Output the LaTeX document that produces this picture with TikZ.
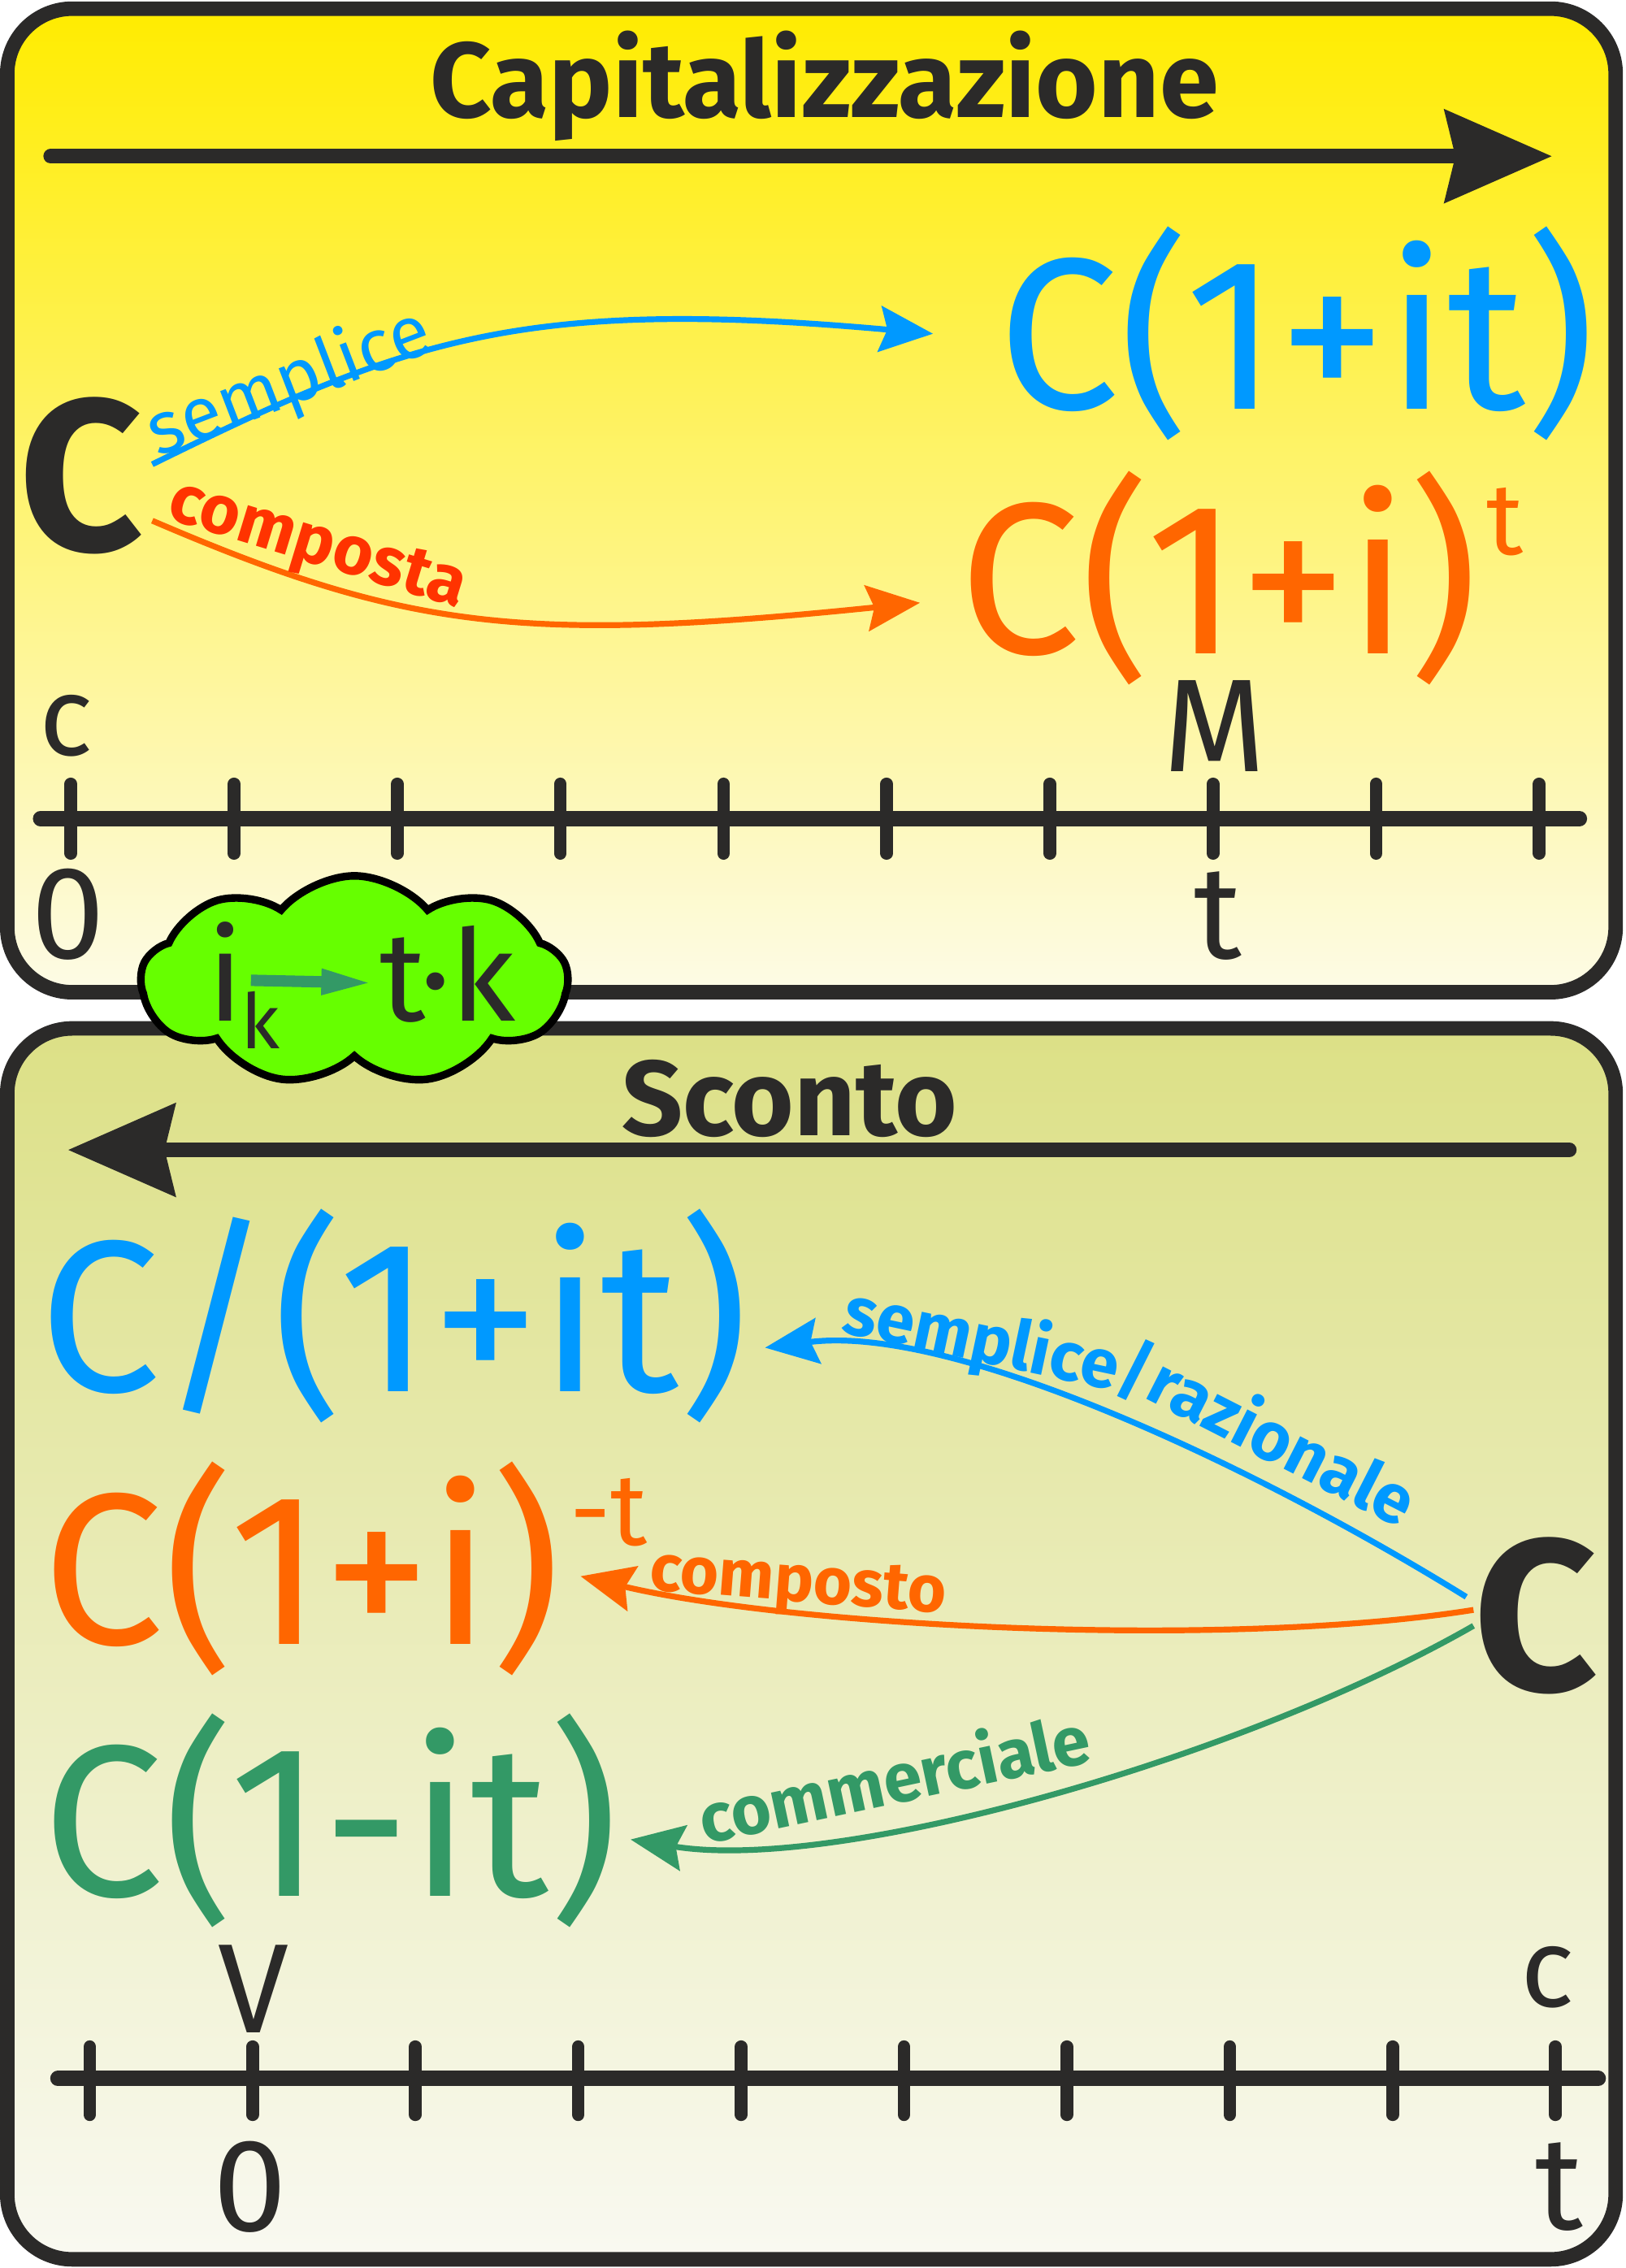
\documentclass[tikz,border=0pt]{standalone}
\usepackage{fontspec}
\setmainfont{Fira Sans}
\usetikzlibrary{arrows.meta,shapes.symbols}

\definecolor{ink}{HTML}{2B2A29}
\definecolor{simple}{HTML}{0099FF}
\definecolor{compound}{HTML}{FF6600}
\definecolor{compred}{HTML}{FF3300}
\definecolor{commercial}{HTML}{339966}
\definecolor{leaf}{HTML}{66FF00}
\definecolor{captop}{HTML}{FFEC00}
\definecolor{capbot}{HTML}{FDFBE6}
\definecolor{distop}{HTML}{DCE086}
\definecolor{disbot}{HTML}{F9F9F1}

\begin{document}
\begin{tikzpicture}[
            x=0.02cm, y=-0.02cm,
            frame/.style={draw=ink, line width=5.7pt, rounded corners=0.9cm},
            axis/.style={draw=ink, line width=6pt, line cap=round},
            tick/.style={draw=ink, line width=5pt, line cap=round},
            bigarrow/.style={draw=ink, line width=5.7pt, line cap=round, -{Stealth[length=42pt, width=36pt, inset=4pt]}},
            link/.style={line width=2.3pt, -{Stealth[length=21pt, width=18pt, inset=3pt]}},
            back/.style={line width=2.3pt, {Stealth[length=21pt, width=18pt, inset=3pt]}-},
            title/.style={font=\bfseries\fontsize{42}{50}\selectfont, text=ink, inner sep=0pt, anchor=base},
            formula/.style={font=\fontsize{85}{90}\selectfont, inner sep=0pt, anchor=base west},
            expo/.style={font=\fontsize{40}{44}\selectfont, inner sep=0pt, anchor=base west, xshift=3pt, yshift=39pt},
            big/.style={font=\bfseries\fontsize{85}{90}\selectfont, text=ink, inner sep=0pt},
            label/.style={font=\bfseries\fontsize{27}{30}\selectfont, inner sep=0pt, anchor=base west},
            axislabel/.style={font=\fontsize{52}{56}\selectfont, text=ink, inner sep=0pt}]
            \useasboundingbox (0,0) rectangle (1124,1568);
            \draw[frame, top color=captop, bottom color=capbot] (5,6) rectangle (1117,686);
            \draw[frame, top color=distop, bottom color=disbot] (5,711) rectangle (1117,1562);

            \node (cap) [title] at (570,81) {Capitalizzazione};
            \coordinate (capfrom) at (35,108);
            \coordinate (capto) at (1073,108);
            \draw[bigarrow] (capfrom) -- (capto);

            \node (Ctop) [big] at (56,329) {C};
            \node (csim) [formula, text=simple] at (690,283) {C(1+it)};
            \node (ccom) [formula, text=compound] at (663,452) {C(1+i)};
            \node (ccomexp) [expo, text=compound] at (ccom.base east) {t};
            \draw[link, simple] ([xshift=0.12cm, yshift=0.16cm]Ctop.east) .. controls (280,235) and (360,205) .. ([xshift=-0.9cm]csim.west);
            \draw[link, compound] ([xshift=0.12cm, yshift=-0.62cm]Ctop.east) .. controls (280,435) and (360,445) .. ([xshift=-0.54cm, yshift=-0.34cm]ccom.west);
            \node (lsim) [label, font=\fontsize{29}{32}\selectfont, text=simple, rotate=21] at (109,316) {semplice};
            \node (lcom) [label, text=compred, rotate=-17] at (114,358) {composta};

            \coordinate (capaxisfrom) at (28,566);
            \coordinate (capaxisto) at (1092,566);
            \draw[axis] (capaxisfrom) -- (capaxisto);
            \foreach \i in {0,...,9}
                \draw[tick] (49+112.8*\i,542) -- (49+112.8*\i,590);
            \node (capc) [axislabel, font=\fontsize{44}{48}\selectfont] at (46,502) {c};
            \node (capm) [axislabel] at (840,502) {M};
            \node (capzero) [axislabel] at (47,632) {0};
            \node (capt) [axislabel] at (842,633) {t};

            \node (dis) [title] at (546,785) {Sconto};
            \coordinate (disfrom) at (1085,795);
            \coordinate (disto) at (47,795);
            \draw[bigarrow] (disfrom) -- (disto);

            \node (Cbot) [big] at (1062,1117) {C};
            \node (dsim) [formula, text=simple] at (27,962) {C/(1+it)};
            \node (dcom) [formula, text=compound] at (29,1137) {C(1+i)};
            \node (dcomexp) [expo, text=compound] at (dcom.base east) {-t};
            \node (dcms) [formula, text=commercial] at (29,1311) {C(1-it)};
            \draw[back, simple] ([xshift=0.22cm, yshift=-0.44cm]dsim.east) .. controls (660,915) and (870,1015) .. ([xshift=-0.1cm, yshift=0.26cm]Cbot.west);
            \draw[back, compound] ([xshift=0.26cm, yshift=-0.1cm]dcom.east) .. controls (550,1125) and (850,1140) .. ([yshift=0.08cm]Cbot.west);
            \draw[back, commercial] ([xshift=0.16cm, yshift=-0.26cm]dcms.east) .. controls (580,1295) and (860,1215) .. ([yshift=-0.14cm]Cbot.west);
            \node (ldsim) [label, text=simple, rotate=-12] at (581,921) {semplice/};
            \node (ldraz) [label, text=simple, rotate=-27] at (790,966) {razionale};
            \node (ldcom) [label, font=\bfseries\fontsize{26}{30}\selectfont, text=compound, rotate=-4.5] at (448,1099) {composto};
            \node (ldcms) [label, text=commercial, rotate=12] at (487,1275) {commerciale};

            \coordinate (disaxisfrom) at (40,1437);
            \coordinate (disaxisto) at (1105,1437);
            \draw[axis] (disaxisfrom) -- (disaxisto);
            \foreach \i in {0,...,9}
                \draw[tick] (62+112.6*\i,1415) -- (62+112.6*\i,1462);
            \node (disv) [axislabel, font=\fontsize{50}{54}\selectfont] at (175,1375) {V};
            \node (disc) [axislabel, font=\fontsize{44}{48}\selectfont] at (1070,1367) {c};
            \node (diszero) [axislabel] at (173,1512) {0};
            \node (dist) [axislabel] at (1078,1512) {t};

            \node (cloud) [cloud, cloud puffs=9, cloud puff arc=100, cloud ignores aspect, draw=black, line width=3pt, fill=leaf,
                minimum width=5.9cm, minimum height=2.9cm] at (245,678) {};
            \node (ik) [axislabel, font=\fontsize{50}{54}\selectfont, anchor=base west] at (143,706) {i};
            \node (ksub) [axislabel, font=\fontsize{30}{34}\selectfont, anchor=base west] at (166,725) {k};
            \node (tk) [axislabel, font=\fontsize{50}{54}\selectfont, anchor=base east] at (357,706) {t·k};
            \draw[commercial, line width=4.5pt, -{Triangle[length=21pt, width=9pt]}] ([xshift=0.1cm, yshift=-0.12cm]ik.east) -- ([xshift=-0.06cm, yshift=-0.12cm]tk.west);
\end{tikzpicture}
\end{document}
